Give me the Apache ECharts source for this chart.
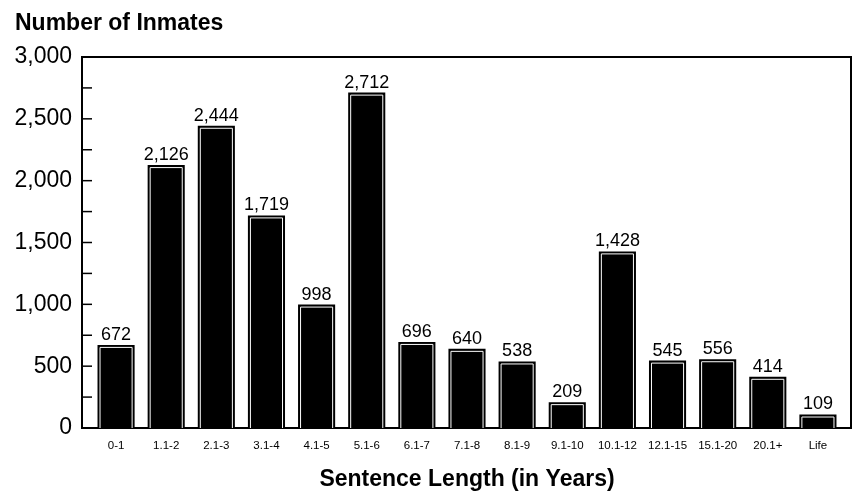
<!DOCTYPE html>
<html>
<head>
	<meta charset="utf-8">
	<script type="text/javascript" src="https://cdn.jsdelivr.net/npm/echarts@6/dist/echarts.min.js"></script>
</head>
<body style="margin:0;">
	<div id="main" style="width: 857px; height:495px;"></div>

	<script type="text/javascript">
		var categories = ['0-1', '1.1-2', '2.1-3', '3.1-4', '4.1-5', '5.1-6', '6.1-7', '7.1-8', '8.1-9', '9.1-10', '10.1-12', '12.1-15', '15.1-20', '20.1+', 'Life'];
		var inmates = [672, 2126, 2444, 1719, 998, 2712, 696, 640, 538, 209, 1428, 545, 556, 414, 109];
		var yTicks = [250, 500, 750, 1000, 1250, 1500, 1750, 2000, 2250, 2500, 2750];

		var FONT = 'Liberation Sans, Arial, sans-serif';

		var chart = echarts.init(document.getElementById('main'));

		var seriesData = [];
		for (var i = 0; i < inmates.length; i++) {
			seriesData.push([i, inmates[i]]);
		}

		// black bar with a white inset outline (top, left, right)
		function drawBar(params, api) {
			var idx = api.value(0);
			var v = api.value(1);
			var top = api.coord([idx, v]);
			var base = api.coord([idx, 0]);
			var w = api.size([1, 0])[0] * 0.74;
			var x = top[0] - w / 2;
			var y = top[1];
			var h = base[1] - y;
			var d = 2.5;
			return {
				type: 'group',
				children: [
					{ type: 'rect', shape: { x: x, y: y, width: w, height: h }, style: { fill: '#000' } },
					{
						type: 'polyline',
						shape: { points: [[x + d, base[1]], [x + d, y + d], [x + w - d, y + d], [x + w - d, base[1]]] },
						style: { stroke: '#fff', fill: null, lineWidth: 1 }
					},
					{
						type: 'text',
						style: {
							text: v.toLocaleString('en-US'),
							x: top[0], y: y - 1,
							textAlign: 'center', textVerticalAlign: 'bottom',
							font: '18px ' + FONT, fill: '#000'
						}
					}
				]
			};
		}

		// inward ticks on the left axis, every 250
		var tickSeries = {
			type: 'custom',
			silent: true,
			xAxisIndex: 0, yAxisIndex: 0,
			renderItem: function (params, api) {
				var p = api.coord([0, api.value(0)]);
				var left = params.coordSys.x;
				return {
					type: 'line',
					shape: { x1: left, y1: p[1], x2: left + 10, y2: p[1] },
					style: { stroke: '#000', lineWidth: 1.5 }
				};
			},
			encode: { y: 0 },
			data: yTicks
		};

		chart.setOption({
			animation: false,
			title: {
				text: 'Number of Inmates',
				left: 10, top: 7,
				textStyle: { fontFamily: FONT, fontSize: 23, fontWeight: 'bold', color: '#000' }
			},
			grid: [
				// frame
				{ left: 82, right: 6, top: 57, bottom: 67, outerBoundsMode: 'none', show: true, borderColor: '#000', borderWidth: 2, backgroundColor: '#fff' },
				// bars, with some padding inside the frame
				{ left: 91, right: 14, top: 57, bottom: 67, outerBoundsMode: 'none' }
			],
			xAxis: [{
				gridIndex: 0,
				type: 'value', min: 0, max: 1,
				show: false
			}, {
				gridIndex: 1,
				type: 'category',
				data: categories,
				name: 'Sentence Length (in Years)',
				nameLocation: 'middle',
				nameGap: 40,
				nameTextStyle: { fontFamily: FONT, fontSize: 23, fontWeight: 'bold', color: '#000' },
				axisLine: { show: false },
				axisTick: { show: false },
				axisLabel: { fontFamily: FONT, fontSize: 11.5, color: '#000', margin: 12, interval: 0 }
			}],
			yAxis: [{
				gridIndex: 0,
				type: 'value',
				min: 0, max: 3000, interval: 500,
				splitLine: { show: false },
				axisLine: { show: true, lineStyle: { color: '#000', width: 2 } },
				axisTick: { show: false },
				axisLabel: {
					fontFamily: FONT, fontSize: 23, color: '#000', margin: 10,
					formatter: function (val) {
						return val.toLocaleString('en-US');
					}
				}
			}, {
				gridIndex: 1,
				type: 'value',
				min: 0, max: 3000, interval: 500,
				show: false
			}],
			series: [{
				type: 'custom',
				xAxisIndex: 1, yAxisIndex: 1,
				renderItem: drawBar,
				encode: { x: 0, y: 1 },
				data: seriesData
			}, tickSeries]
		});
	</script>
</body>
</html>
